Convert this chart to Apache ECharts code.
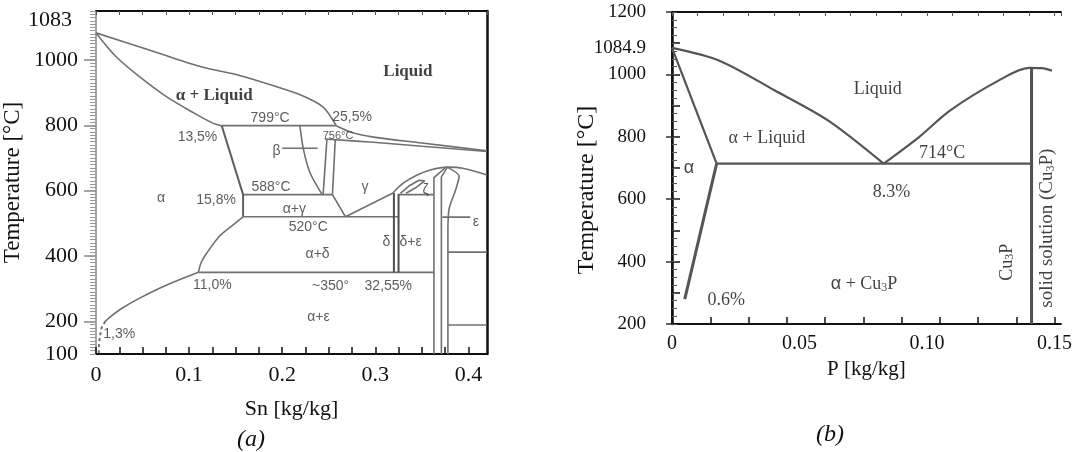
<!DOCTYPE html>
<html><head><meta charset="utf-8">
<script src="https://cdn.jsdelivr.net/npm/echarts@6/dist/echarts.min.js"></script>
<style>html,body{margin:0;padding:0;background:#fff}#c{width:1075px;height:452px}</style>
</head><body><div id="c"></div>
<script>
// ---------- Chart (a): Cu-Sn ----------
const aXTickLabels = [0, 0.1, 0.2, 0.3, 0.4];
const aYTickLabels = [100, 200, 400, 600, 800, 1000, 1083];
const aLiquidusUpper = [[0,1083],[0.058,1030],[0.112,980],[0.155,952],[0.19,922],[0.22,893],[0.244,856],[0.258,799]];
const aLiquidusLower = [[0.258,799],[0.275,778],[0.298,764],[0.35,746],[0.42,722]];
const aSolidus = [[0,1083],[0.022,1009],[0.047,948],[0.076,887],[0.105,838],[0.126,806],[0.135,799]];
const aPeritectic799 = [[0.135,799],[0.258,799]];
const aAlphaUpper = [[0.135,799],[0.158,588],[0.158,520]];
const aAlphaLower = [[0.158,520],[0.145,490],[0.133,462],[0.119,409],[0.113,380],[0.11,350]];
const aAlphaSolvus = [[0.11,350],[0.076,311],[0.047,271],[0.028,240],[0.015,213],[0.01,200]];
const aAlphaSolvusDashed = [[0.01,200],[0.006,180],[0.004,150],[0.003,120],[0.003,100]];
const aBetaLeft = [[0.219,799],[0.223,724],[0.23,654],[0.243,588]];
const aBetaRight1 = [[0.248,756],[0.244,588]];
const aBetaRight2 = [[0.257,756],[0.254,588]];
const aLine756 = [[0.246,758],[0.298,748],[0.35,736],[0.42,720]];
const aLine588 = [[0.158,588],[0.254,588]];
const aGammaLeft = [[0.254,588],[0.268,520]];
const aGammaRight = [[0.268,520],[0.319,593]];
const aLine520 = [[0.158,520],[0.325,520]];
const aLine350 = [[0.11,350],[0.363,350]];
const aDelta1 = [[0.32,593],[0.32,350]];
const aDelta2 = [[0.325,590],[0.325,350]];
const aDome = [[0.319,593],[0.33,623],[0.345,648],[0.36,664],[0.377,672],[0.395,668],[0.42,648]];
const aZetaBase = [[0.325,588],[0.363,588]];
const aZeta = [[0.327,592],[0.337,616],[0.347,632],[0.353,630],[0.343,608],[0.333,592]];
const aEps1 = [[0.363,100],[0.363,640],[0.375,670]];
const aEps2 = [[0.371,100],[0.371,642],[0.377,670]];
const aEps3 = [[0.377,672],[0.39,643],[0.386,600],[0.379,540],[0.378,470],[0.378,100]];
const aEta1 = [[0.378,412],[0.42,412]];
const aEta2 = [[0.378,189],[0.42,189]];
const aBetaArrow = [[0.2,730],[0.238,730]];
const aEpsArrow = [[0.372,519],[0.402,519]];
const aLabels = [
  [0.127,890,'α + Liquid','bold'],[0.335,963,'Liquid','bold'],
  [0.187,822,'799°C'],[0.275,825,'25,5%'],[0.109,764,'13,5%'],[0.26,767,'756°C','small'],
  [0.194,721,'β'],[0.289,611,'γ'],[0.188,611,'588°C'],[0.07,578,'α'],[0.129,571,'15,8%'],
  [0.354,602,'ζ'],[0.213,544,'α+γ'],[0.228,489,'520°C'],[0.408,504,'ε'],
  [0.238,406,'α+δ'],[0.312,443,'δ'],[0.338,443,'δ+ε'],
  [0.125,311,'11,0%'],[0.252,308,'~350°'],[0.314,308,'32,55%'],[0.239,213,'α+ε'],[0.025,161,'1,3%']
];

// ---------- Chart (b): Cu-P ----------
const bXTickLabels = [0, 0.05, 0.10, 0.15];
const bYTickLabels = [200, 400, 600, 800, 1000, 1084.9, 1200];
const bLiquidusLeft = [[0,1084.9],[0.0186,1044],[0.04,950],[0.0613,852],[0.083,714]];
const bLiquidusRight = [[0.083,714],[0.097,800],[0.109,884],[0.128,980],[0.140,1021],[0.145,1020],[0.149,1012]];
const bSolidus = [[0,1084.9],[0.0175,714]];
const bSolvus = [[0.0175,714],[0.005,280]];
const bEutectic = [[0.0175,714],[0.141,714]];
const bCu3P = [[0.141,1023],[0.141,200]];
const bLabels = [
  [0.0807,951,'Liquid'],[0.0372,795,'α + Liquid'],[0.1059,747,'714°C'],[0.0066,699,'α','sans'],
  [0.0861,622,'8.3%'],[0.0213,277,'0.6%'],[0.0753,327,'α + Cu3P','cu3p']
];
const bVLabels = [[0.1315,398,'Cu3P'],[0.147,507,'solid solution (Cu3P)']];

const serif = 'Liberation Serif';
const sans = 'Liberation Sans';

function lineSeries(data, xi, yi, opt) {
  opt = opt || {};
  return {type:'line', data, xAxisIndex:xi, yAxisIndex:yi, showSymbol:false,
    smooth: opt.smooth || false,
    lineStyle:{color: opt.color || '#707070', width: opt.width || 1.6, type: opt.type || 'solid'},
    silent:true, animation:false, z: opt.z || 2};
}
const sub = t => t.replace('Cu3P','Cu{sub|3}P');
const subRich = {sub:{fontFamily:serif,fontSize:12,verticalAlign:'bottom',lineHeight:6,color:'#111'},
                 s:{fontFamily:sans,fontSize:18,color:'#111'}};

const series = [];
[[aLiquidusUpper,0.3],[aLiquidusLower,0.3],[aSolidus,0.3],[aAlphaLower,0.3],[aAlphaSolvus,0.3],
 [aBetaLeft,0.3],[aLine756,0.3],[aDome,0.35],[aEps3,0.3]].forEach(a =>
  series.push(lineSeries(a[0],0,0,{smooth:a[1]})));
[aPeritectic799,aBetaRight1,aBetaRight2,aLine588,aGammaLeft,aGammaRight,aLine520,aLine350,aZetaBase,aZeta,aEps1,aEps2,aEta1,aEta2,aBetaArrow,aEpsArrow]
  .forEach(d => series.push(lineSeries(d,0,0,{})));
series.push(lineSeries(aAlphaUpper,0,0,{color:'#606060',width:2}));
series.push(lineSeries(aAlphaSolvusDashed,0,0,{type:[3,3],width:2}));
[aDelta1,aDelta2].forEach(d => series.push(lineSeries(d,0,0,{color:'#505050',width:2})));

series.push({type:'scatter', xAxisIndex:0, yAxisIndex:0, symbolSize:0, silent:true, animation:false, z:5,
  data: aLabels.map(l => ({value:[l[0],l[1]], label:{show:true, position:'inside', formatter:l[2],
    fontFamily: l[3]==='bold'?serif:sans, fontWeight: l[3]==='bold'?'bold':'normal',
    fontSize: l[3]==='bold'?17:(l[3]==='small'?11:14), color: l[3]==='bold'?'#111':'#333'}}))});

[[bLiquidusLeft,0.3],[bLiquidusRight,0.3],[bSolidus,0],[bEutectic,0]].forEach(a =>
  series.push(lineSeries(a[0],2,3,{color:'#555',width:2.2,smooth:a[1]})));
series.push(lineSeries(bSolvus,2,3,{color:'#555',width:3}));
series.push(lineSeries(bCu3P,2,3,{color:'#505050',width:3}));
series.push({type:'scatter', xAxisIndex:2, yAxisIndex:3, symbolSize:0, silent:true, animation:false, z:5,
  data: bLabels.map(l => ({value:[l[0],l[1]], label:{show:true, position:'inside',
    formatter: l[3]==='cu3p' ? sub(l[2]).replace('α','{s|α}') : l[2],
    fontFamily: l[3]==='sans'?sans:serif, fontSize: 18, color:'#111', rich: subRich}}))
});
series.push({type:'scatter', xAxisIndex:2, yAxisIndex:3, symbolSize:0, silent:true, animation:false, z:5,
  data: bVLabels.map((l,i) => ({value:[l[0],l[1]], label:{show:true, position:'inside', rotate:90, formatter:sub(l[2]),
     fontFamily:serif, fontSize: i===0?18:19, color:'#111', rich: subRich}}))});

const black = '#111';
const option = {
  backgroundColor:'#fff', animation:false,
  grid:[{left:96, top:11, width:391, height:343},{left:672, top:12, width:393, height:312}],
  title:[
    {text:'(a)', left:232, top:423, textStyle:{fontFamily:serif, fontStyle:'italic', fontWeight:'normal', fontSize:24, color:black}},
    {text:'(b)', left:811, top:418, textStyle:{fontFamily:serif, fontStyle:'italic', fontWeight:'normal', fontSize:24, color:black}}
  ],
  xAxis:[
    {gridIndex:0, type:'value', min:0, max:0.42, position:'bottom',
     axisLine:{lineStyle:{color:black,width:2}},
     axisTick:{inside:true, length:7, lineStyle:{color:black,width:1.5}, customValues:[0,0.025,0.05,0.075,0.1,0.125,0.15,0.175,0.2,0.225,0.25,0.275,0.3,0.325,0.35,0.375,0.4]},
     axisLabel:{customValues:aXTickLabels, formatter:v=>v===0?'0':v.toFixed(1), fontFamily:serif, fontSize:22, color:black, margin:10},
     splitLine:{show:false},
     name:'Sn [kg/kg]', nameLocation:'middle', nameGap:44, nameTextStyle:{fontFamily:serif, fontSize:22, color:black}},
    {gridIndex:0, type:'value', min:0, max:0.42, position:'top',
     axisLine:{lineStyle:{color:black,width:2}}, axisTick:{inside:true,length:4,lineStyle:{color:'#555'}}, interval:0.025,
     axisLabel:{show:false}, splitLine:{show:false}},
    {gridIndex:1, type:'value', min:0, max:0.1525, position:'bottom',
     axisLine:{lineStyle:{color:black,width:2}},
     axisTick:{inside:true, length:7, lineStyle:{color:black,width:1.5}, customValues:[0,0.015,0.03,0.045,0.06,0.075,0.09,0.105,0.12,0.135,0.15]},
     axisLabel:{customValues:bXTickLabels, formatter:v=>v===0?'0':(v===0.05?'0.05':v.toFixed(2)), fontFamily:serif, fontSize:20, color:black, margin:10},
     splitLine:{show:false},
     name:'P [kg/kg]', nameLocation:'middle', nameGap:30, nameTextStyle:{fontFamily:serif, fontSize:21, color:black}},
    {gridIndex:1, type:'value', min:0, max:0.1525, position:'top', interval:0.01,
     axisLine:{lineStyle:{color:black,width:2}}, axisTick:{inside:true,length:4,lineStyle:{color:'#555'}},
     axisLabel:{show:false}, splitLine:{show:false}}
  ],
  yAxis:[
    {gridIndex:0, type:'value', min:100, max:1150, position:'left',
     axisLine:{lineStyle:{color:'#888',width:1.5}},
     axisTick:{customValues:[200,400,600,800,1000], length:12, lineStyle:{color:'#888',width:1.5}},
     axisLabel:{customValues:aYTickLabels, fontFamily:serif, fontSize:22, color:black, margin:18,
       formatter:v=>v===1083?'{t|1083}':String(v), rich:{t:{fontFamily:serif,fontSize:22,color:black,padding:[0,6,26,0]}}},
     splitLine:{show:false},
     name:'Temperature [°C]', nameLocation:'middle', nameGap:62, nameRotate:90, nameTextStyle:{fontFamily:serif, fontSize:23, color:black}},
    {gridIndex:0, type:'value', min:100, max:1150, interval:10, position:'left',
     axisLine:{show:false}, axisTick:{length:6, lineStyle:{color:'#999',width:1}}, axisLabel:{show:false}, splitLine:{show:false}},
    {gridIndex:0, type:'value', min:100, max:1150, position:'right',
     axisLine:{lineStyle:{color:black,width:2.5}}, axisTick:{show:false}, axisLabel:{show:false}, splitLine:{show:false}},
    {gridIndex:1, type:'value', min:200, max:1200, position:'left',
     axisLine:{lineStyle:{color:'#333',width:2}},
     axisTick:{customValues:[200,400,600,800,1000,1200], length:6, lineStyle:{color:'#333',width:1.5}},
     axisLabel:{customValues:bYTickLabels, fontFamily:serif, fontSize:19, color:black, margin:26, formatter:v=>String(v)},
     splitLine:{show:false},
     name:'Temperature [°C]', nameLocation:'middle', nameGap:73, nameRotate:90, nameMoveOverlap:false,
     nameTextStyle:{fontFamily:serif, fontSize:24, color:black, padding:[0,44,0,0]}},
    {gridIndex:1, type:'value', min:200, max:1200, interval:100, position:'right',
     axisLine:{lineStyle:{color:black,width:2.5}}, axisTick:{length:8, lineStyle:{color:black,width:1.5}}, axisLabel:{show:false}, splitLine:{show:false}},
    {gridIndex:1, type:'value', min:200, max:1200, interval:25, position:'left',
     axisLine:{show:false}, axisTick:{inside:true, length:5, lineStyle:{color:'#555',width:1}}, axisLabel:{show:false}, splitLine:{show:false}}
  ],
  series
};
const chart = echarts.init(document.getElementById('c'), null, {renderer:'canvas'});
chart.setOption(option);
</script></body></html>
